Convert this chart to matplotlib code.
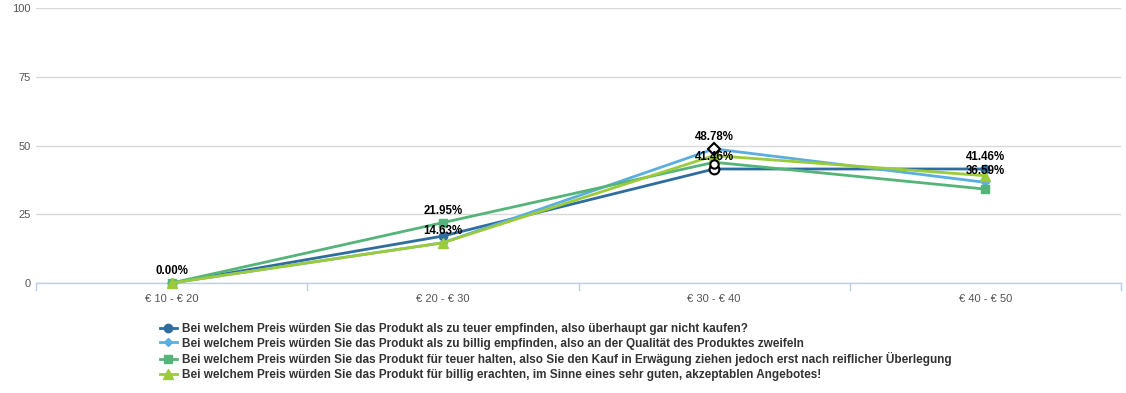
import matplotlib
matplotlib.use("Agg")
import matplotlib.pyplot as plt
from matplotlib.lines import Line2D

plt.rcParams['font.family'] = ['Liberation Sans', 'DejaVu Sans']

categories = ["€ 10 - € 20", "€ 20 - € 30", "€ 30 - € 40", "€ 40 - € 50"]
series_names = [
    "Bei welchem Preis würden Sie das Produkt als zu teuer empfinden, also überhaupt gar nicht kaufen?",
    "Bei welchem Preis würden Sie das Produkt als zu billig empfinden, also an der Qualität des Produktes zweifeln",
    "Bei welchem Preis würden Sie das Produkt für teuer halten, also Sie den Kauf in Erwägung ziehen jedoch erst nach reiflicher Überlegung",
    "Bei welchem Preis würden Sie das Produkt für billig erachten, im Sinne eines sehr guten, akzeptablen Angebotes!",
]
too_expensive = [0.0, 17.07, 41.46, 41.46]
too_cheap = [0.0, 14.63, 48.78, 36.59]
expensive = [0.0, 21.95, 43.90, 34.15]
cheap = [0.0, 14.63, 46.34, 39.02]
yticks = [0, 25, 50, 75, 100]

# data labels: (category index, value)
label_points = [(0, 0.0), (1, 21.95), (1, 14.63), (2, 48.78), (2, 41.46), (3, 41.46), (3, 36.59)]

colors = ["#2e6d9e", "#5aaee0", "#55b47a", "#9ccb3a"]
markers = ["o", "D", "s", "^"]
msizes = [6, 4.5, 6, 6.5]
all_series = [too_expensive, too_cheap, expensive, cheap]

W, H = 1126, 393
fig = plt.figure(figsize=(W / 100, H / 100), dpi=100)
ax = fig.add_axes([36 / W, 1 - 283 / H, (1121 - 36) / W, (283 - 8) / H])

x = list(range(len(categories)))
handles = []
for vals, c, m, ms, name in zip(all_series, colors, markers, msizes, series_names):
    ax.plot(x, vals, color=c, lw=2, marker=m, ms=ms, mec=c, mfc=c, zorder=3, clip_on=False)
    handles.append(Line2D([0], [0], color=c, lw=2, marker=m, ms=ms, mfc=c, mec=c))

# hover highlight markers at third category
ax.plot([2], [too_cheap[2]], marker="D", ms=6, mfc="white", mec="black", mew=1.5, zorder=5, ls="none")
ax.plot([2], [too_expensive[2]], marker="o", ms=7, mfc="white", mec="black", mew=1.5, zorder=5, ls="none")
ax.plot([2], [expensive[2] - 0.5], marker="o", ms=6, mfc="white", mec="black", mew=1.5, zorder=5, ls="none")

for xi, v in label_points:
    ax.annotate(f"{v:.2f}%", (xi, v), xytext=(0, 4), textcoords="offset points",
                ha="center", va="bottom", fontsize=8.3, fontweight="bold", color="black", zorder=6)

ax.set_xlim(-0.5, len(categories) - 0.5)
ax.set_ylim(0, 100)
ax.set_yticks(yticks)
ax.set_yticklabels([str(t) for t in yticks], fontsize=8, color="#555555")
ax.yaxis.grid(True, color="#d8d8d8", lw=1)
ax.set_axisbelow(True)
ax.tick_params(axis="y", length=0, pad=4)

ax.set_xticks(x)
ax.set_xticklabels(categories, fontsize=8, color="#555555")
ax.tick_params(axis="x", length=0, pad=8)
for b in [i + 0.5 for i in range(-1, len(categories))]:
    ax.plot([b, b], [0, -2.7], color="#c0d0e0", lw=1, clip_on=False, zorder=1)

for s in ["top", "right", "left"]:
    ax.spines[s].set_visible(False)
ax.spines["bottom"].set_color("#c0d0e0")
ax.spines["bottom"].set_linewidth(1)

leg = fig.legend(handles, series_names, loc="upper left", bbox_to_anchor=(160 / W, 1 - 323 / H),
                 frameon=False, prop={"size": 8.5, "weight": "bold"}, handlelength=1.4,
                 handletextpad=0.45, labelspacing=0.22, borderaxespad=0, borderpad=0)
for t in leg.get_texts():
    t.set_color("#333333")

fig.savefig("out.png", dpi=100)
